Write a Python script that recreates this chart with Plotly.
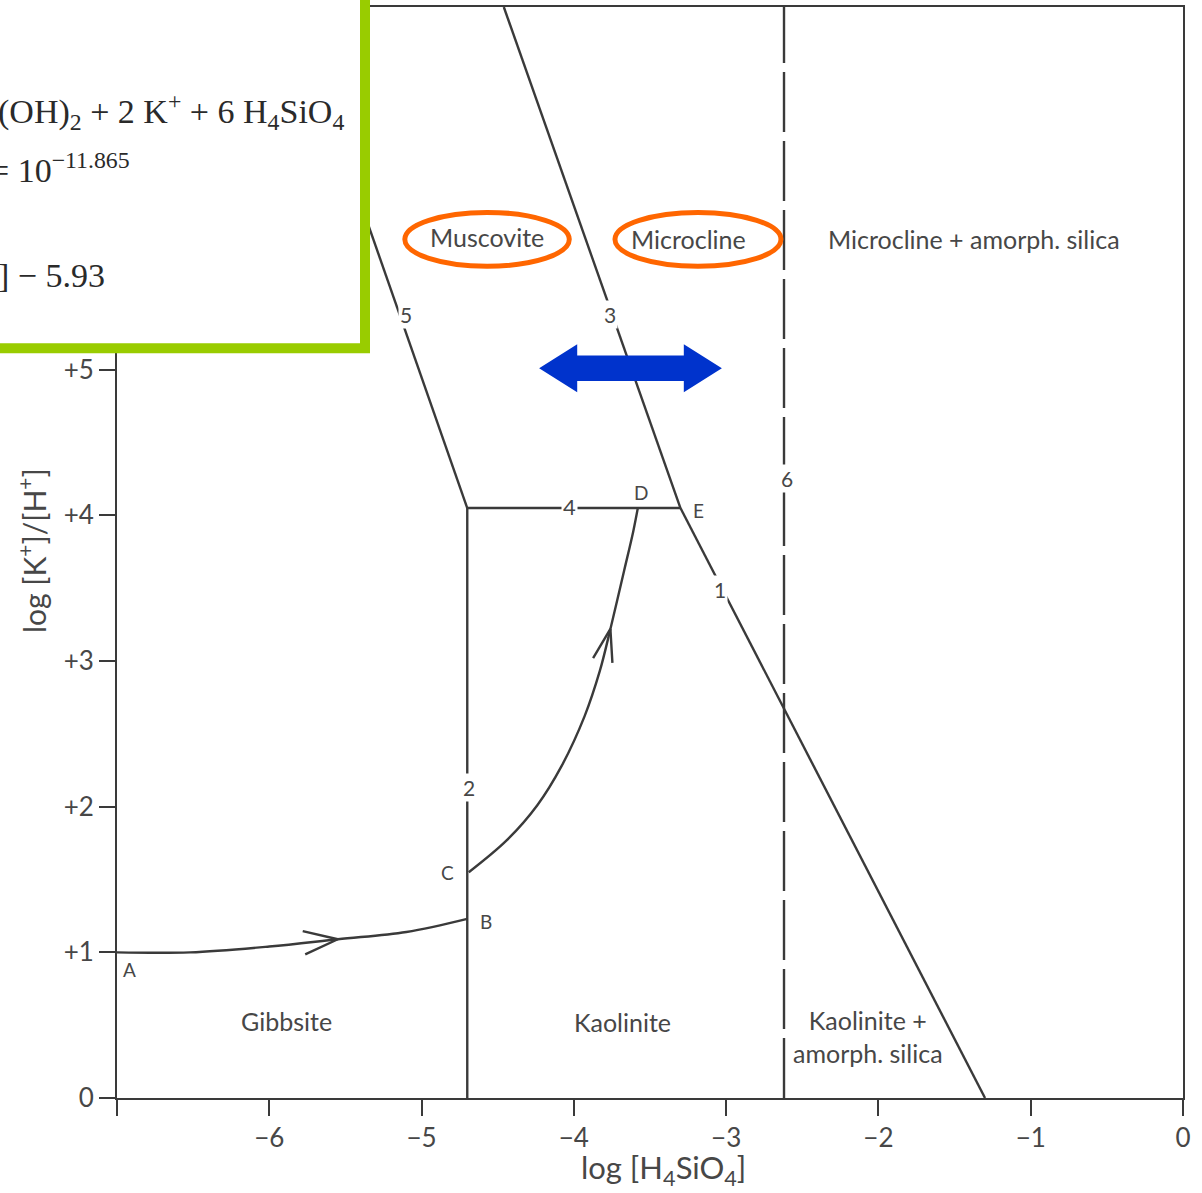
import math
import plotly.graph_objects as go

# ---- data -------------------------------------------------------------
# phase boundaries, log[H4SiO4] (x) vs log[K+]/[H+] (y)
line1_x = [-3.30, -1.30]
line1_y = [4.05, 0.00]
line2_x = [-4.70, -4.70]
line2_y = [0.00, 4.05]
line3_x = [-3.30, -4.46]
line3_y = [4.05, 7.49]
line4_x = [-4.70, -3.30]
line4_y = [4.05, 4.05]
line5_x = [-4.70, -5.85]
line5_y = [4.05, 7.49]
line6_x = [-2.62, -2.62]
line6_y = [0.00, 7.49]

# weathering paths A -> B and C -> D
path_ab_x = [-7.00, -6.52, -6.00, -5.55, -5.10, -4.70]
path_ab_y = [1.00, 1.00, 1.04, 1.09, 1.14, 1.23]
path_cd_x = [-4.69, -4.44, -4.24, -4.08, -3.93, -3.83, -3.76, -3.67, -3.61, -3.58]
path_cd_y = [1.55, 1.77, 2.01, 2.28, 2.62, 2.93, 3.22, 3.62, 3.89, 4.05]
arrow_ab_index = 3
arrow_cd_index = 6

x_ticks = [-7, -6, -5, -4, -3, -2, -1, 0]
x_tick_text = ["", "\u22126", "\u22125", "\u22124", "\u22123", "\u22122", "\u22121", "0"]
y_ticks = [0, 1, 2, 3, 4, 5]
y_tick_text = ["0", "+1", "+2", "+3", "+4", "+5"]

X_RANGE = [-7.0, 0.0]
Y_RANGE = [0.0, 7.49]

# ---- layout geometry --------------------------------------------------
W, H = 1202, 1193
ML, MR, MT, MB = 117, 19, 5, 95
PW, PH = W - ML - MR, H - MT - MB
SX = PW / (X_RANGE[1] - X_RANGE[0])   # px per x unit
SY = PH / (Y_RANGE[1] - Y_RANGE[0])   # px per y unit

INK = "#3a3a3a"
TXT = "#474747"
SANS = "Lato, 'Open Sans', sans-serif"
SERIF = "'Liberation Serif', 'DejaVu Serif', serif"


def px_x(px):
    return (px - ML) / PW


def px_y(py):
    return (H - MB - py) / PH


def chevron(xs, ys, i, length=35, half_angle=20):
    """Open arrowhead at point i of a path, pointing along the path."""
    dx = (xs[i + 1] - xs[i - 1]) * SX
    dy = (ys[i + 1] - ys[i - 1]) * SY
    n = math.hypot(dx, dy)
    ux, uy = dx / n, dy / n
    out_x, out_y = [], []
    for s in (1, -1):
        a = math.radians(180 + s * half_angle)
        rx = ux * math.cos(a) - uy * math.sin(a)
        ry = ux * math.sin(a) + uy * math.cos(a)
        out_x.append(xs[i] + rx * length / SX)
        out_y.append(ys[i] + ry * length / SY)
    return ([out_x[0], xs[i], out_x[1]], [out_y[0], ys[i], out_y[1]])


fig = go.Figure()


def add_line(x, y, dash="solid", shape="linear"):
    fig.add_trace(go.Scatter(
        x=x, y=y, mode="lines", hoverinfo="skip", showlegend=False,
        line=dict(color=INK, width=2.4, dash=dash, shape=shape, smoothing=1.0),
    ))


for lx, ly in [(line1_x, line1_y), (line2_x, line2_y), (line3_x, line3_y),
               (line4_x, line4_y), (line5_x, line5_y)]:
    add_line(lx, ly)
add_line(line6_x, line6_y, dash="60px,9px")

add_line(path_ab_x, path_ab_y, shape="spline")
add_line(path_cd_x, path_cd_y, shape="spline")
hx, hy = chevron(path_ab_x, path_ab_y, arrow_ab_index, 36, 19)
add_line(hx, hy)
hx, hy = chevron(path_cd_x, path_cd_y, arrow_cd_index, 34, 17)
add_line(hx, hy)

annotations = []


def label(x, y, text, size=25, bg=None, color=TXT):
    d = dict(x=x, y=y, xref="x", yref="y", text=text, showarrow=False,
             font=dict(family=SANS, size=size, color=color),
             xanchor="center", yanchor="middle")
    if bg:
        d.update(bgcolor=bg, borderpad=1)
    annotations.append(d)


# field names
label(-4.57, 5.91, "Muscovite")
label(-3.25, 5.90, "Microcline")
label(-1.37, 5.90, "Microcline + amorph. silica")
label(-5.89, 0.53, "Gibbsite")
label(-3.68, 0.52, "Kaolinite")
label(-2.07, 0.42, "Kaolinite +<br>amorph. silica")

# boundary numbers
label(-5.10, 5.38, "5", 21, "white")
label(-3.76, 5.38, "3", 21, "white")
label(-4.03, 4.06, "4", 22, "white")
label(-3.04, 3.49, "1", 21, "white")
label(-4.69, 2.13, "2", 21, "white")
label(-2.60, 4.25, "6", 21, "white")

# path points
label(-6.92, 0.88, "A", 19)
label(-4.58, 1.21, "B", 19)
label(-4.83, 1.55, "C", 19)
label(-3.56, 4.16, "D", 19)
label(-3.18, 4.03, "E", 19)

# axis titles
annotations.append(dict(
    x=px_x(32), y=px_y(550), xref="paper", yref="paper", showarrow=False,
    text="log [K<sup>+</sup>]/[H<sup>+</sup>]", textangle=-90,
    font=dict(family=SANS, size=30, color=TXT), xanchor="center", yanchor="middle"))
annotations.append(dict(
    x=px_x(663), y=px_y(1170), xref="paper", yref="paper", showarrow=False,
    text="log [H<sub>4</sub>SiO<sub>4</sub>]",
    font=dict(family=SANS, size=31, color=TXT), xanchor="center", yanchor="middle"))

# equation panel text
eq_font = dict(family=SERIF, size=34, color="#2a2a2a")
annotations.append(dict(
    x=px_x(-4), y=px_y(110), xref="paper", yref="paper", showarrow=False,
    text="(OH)<sub>2</sub> + 2 K<sup>+</sup> + 6 H<sub>4</sub>SiO<sub>4</sub>",
    font=eq_font, xanchor="left", yanchor="middle"))
annotations.append(dict(
    x=px_x(-12), y=px_y(166), xref="paper", yref="paper", showarrow=False,
    text="= 10<sup>\u221211.865</sup>",
    font=eq_font, xanchor="left", yanchor="middle"))
annotations.append(dict(
    x=px_x(-4), y=px_y(274), xref="paper", yref="paper", showarrow=False,
    text="] \u2212 5.93",
    font=eq_font, xanchor="left", yanchor="middle"))

shapes = []

# highlight ellipses
for x0, x1, y0, y1 in [(-5.11, -4.03, 5.71, 6.08), (-3.73, -2.64, 5.71, 6.08)]:
    shapes.append(dict(type="circle", xref="x", yref="y", x0=x0, x1=x1, y0=y0, y1=y1,
                       line=dict(color="#FF6600", width=5), layer="above"))

# blue double arrow
cx, cy, half = -3.628, 5.01, 0.60
head, shaft_h, head_h = 0.25, 0.088, 0.165
pts = [(cx - half, cy), (cx - half + head, cy + head_h), (cx - half + head, cy + shaft_h),
       (cx + half - head, cy + shaft_h), (cx + half - head, cy + head_h), (cx + half, cy),
       (cx + half - head, cy - head_h), (cx + half - head, cy - shaft_h),
       (cx - half + head, cy - shaft_h), (cx - half + head, cy - head_h)]
path = "M " + " L ".join(f"{px},{py}" for px, py in pts) + " Z"
shapes.append(dict(type="path", xref="x", yref="y", path=path,
                   fillcolor="#0033CC", line=dict(width=0), layer="above"))

# equation panel with green frame
shapes.append(dict(type="rect", xref="paper", yref="paper",
                   x0=px_x(-30), x1=px_x(365), y0=px_y(347), y1=px_y(-30),
                   fillcolor="white", line=dict(color="#99CC00", width=10), layer="above"))

axis_common = dict(showline=True, linecolor=INK, linewidth=2, mirror=True,
                   ticks="outside", ticklen=16, tickwidth=2, tickcolor=INK,
                   showgrid=False, zeroline=False,
                   tickfont=dict(family=SANS, size=26, color=TXT))

fig.update_layout(
    width=W, height=H,
    margin=dict(l=ML, r=MR, t=MT, b=MB),
    paper_bgcolor="white", plot_bgcolor="white",
    xaxis=dict(range=X_RANGE, tickvals=x_ticks, ticktext=x_tick_text, **axis_common),
    yaxis=dict(range=Y_RANGE, tickvals=y_ticks, ticktext=y_tick_text, **axis_common),
    annotations=annotations,
    shapes=shapes,
)

fig.write_html("out.html")
